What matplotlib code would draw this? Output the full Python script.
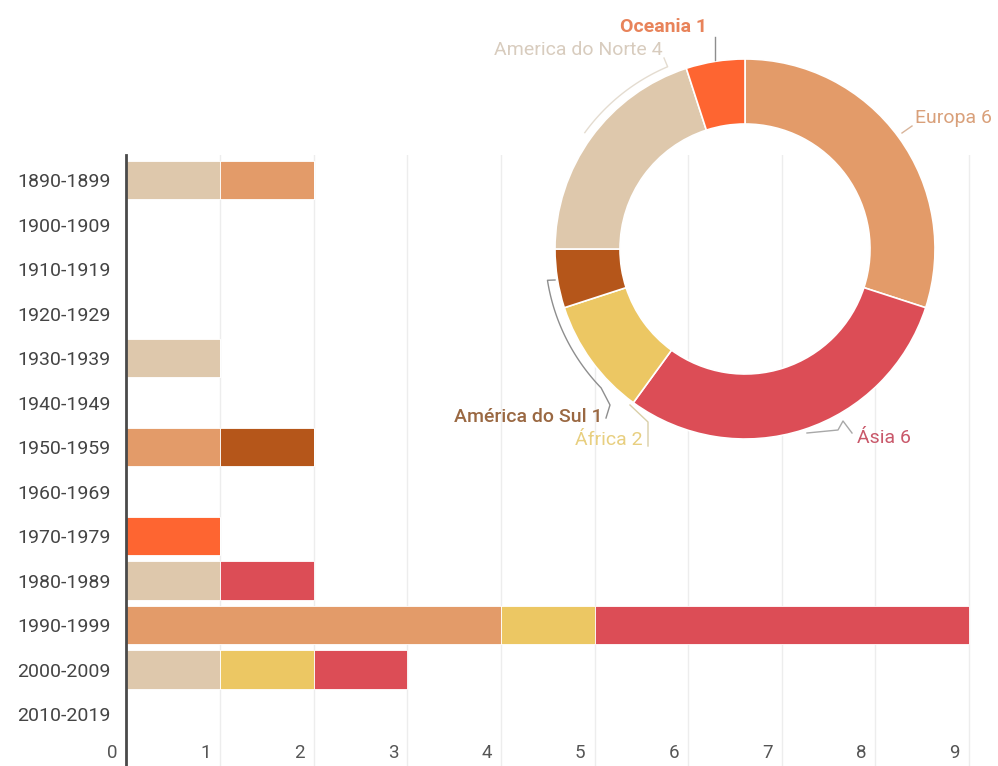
import numpy as np
import matplotlib
matplotlib.use("Agg")
import matplotlib.pyplot as plt
import matplotlib.transforms as mtransforms

plt.rcParams['font.family'] = ['Roboto', 'DejaVu Sans']

# ---- data -------------------------------------------------------------
decades = ['1890-1899', '1900-1909', '1910-1919', '1920-1929', '1930-1939',
           '1940-1949', '1950-1959', '1960-1969', '1970-1979', '1980-1989',
           '1990-1999', '2000-2009', '2010-2019']

america_norte = [1, 0, 0, 0, 1, 0, 0, 0, 0, 1, 0, 1, 0]
europa        = [1, 0, 0, 0, 0, 0, 1, 0, 0, 0, 4, 0, 0]
america_sul   = [0, 0, 0, 0, 0, 0, 1, 0, 0, 0, 0, 0, 0]
oceania       = [0, 0, 0, 0, 0, 0, 0, 0, 1, 0, 0, 0, 0]
africa        = [0, 0, 0, 0, 0, 0, 0, 0, 0, 0, 1, 1, 0]
asia          = [0, 0, 0, 0, 0, 0, 0, 0, 0, 1, 4, 1, 0]

x_ticks = [0, 1, 2, 3, 4, 5, 6, 7, 8, 9]

# stacking order of the bars (left to right)
bar_series = [
    ('America do Norte', america_norte, '#DEC8AC'),
    ('Europa',           europa,        '#E39B69'),
    ('América do Sul',   america_sul,   '#B5561A'),
    ('Oceania',          oceania,       '#FE6531'),
    ('África',           africa,        '#ECC763'),
    ('Ásia',             asia,          '#DC4D56'),
]

# donut order, clockwise from 12 o'clock
donut_names  = ['Europa', 'Ásia', 'África', 'América do Sul', 'America do Norte', 'Oceania']
donut_series = [europa, asia, africa, america_sul, america_norte, oceania]
donut_colors = ['#E39B69', '#DC4D56', '#ECC763', '#B5561A', '#DEC8AC', '#FE6531']
donut_totals = [sum(s) for s in donut_series]

# ---- figure -----------------------------------------------------------
W, H = 998, 766
fig = plt.figure(figsize=(W / 100, H / 100), dpi=100)
fig.patch.set_facecolor('white')

x0_px, unit_px = 126.5, 93.6
top_px, row0_px, row_px = 155, 180, 44.5
ax = fig.add_axes([x0_px / W, 0, (W - x0_px) / W, (H - top_px) / H])
ax.set_xlim(0, (W - x0_px) / unit_px)
ax.set_ylim((H - row0_px) / row_px, -(row0_px - top_px) / row_px)

rows = np.arange(len(decades))
left = np.zeros(len(decades))
for name, vals, col in bar_series:
    vals = np.array(vals, dtype=float)
    ax.barh(rows, vals, left=left, height=0.855, color=col,
            edgecolor='white', linewidth=0.6, zorder=2)
    left += vals

for v in x_ticks[1:]:
    ax.axvline(v, color='#EDEDED', lw=1, zorder=0)

for s in ['top', 'right', 'bottom']:
    ax.spines[s].set_visible(False)
ax.spines['left'].set_color('#4a4a4a')
ax.spines['left'].set_linewidth(2)
ax.set_xticks([])
ax.set_yticks(rows)
ax.set_yticklabels(decades, fontsize=14, color='#444444')
ax.tick_params(axis='y', length=0, pad=11.5)
ax.set_facecolor('none')

shift = mtransforms.ScaledTranslation(-9 / 100, 0, fig.dpi_scale_trans)
xlab_row = (753 - row0_px) / row_px
for v in x_ticks:
    ax.text(v, xlab_row, str(v), ha='right', va='center', fontsize=13.5,
            color='#555555', transform=ax.transData + shift, clip_on=False)

# ---- donut --------------------------------------------------------------
ax2 = fig.add_axes([0, 0, 1, 1])
cx, cy, R = 745, 249, 190
ax2.pie(donut_totals, colors=donut_colors, startangle=90, counterclock=False,
        radius=R, center=(cx, H - cy),
        wedgeprops=dict(width=65, edgecolor='white', linewidth=1.2))
ax2.set_xlim(0, W)
ax2.set_ylim(0, H)
ax2.set_aspect('auto')
ax2.axis('off')


def P(pts):
    pts = np.array(pts, dtype=float)
    return pts[:, 0], H - pts[:, 1]


def arc(r, a0, a1, n=40):
    a = np.radians(np.linspace(a0, a1, n))
    return [(cx + r * np.sin(t), cy - r * np.cos(t)) for t in a]


lc = '#A8A8A8'
# Europa
ax2.plot(*P([(902, 133), (912, 126)]), color='#D8B49A', lw=1)
# Ásia
ax2.plot(*P([(807, 433), (838, 430), (843, 421), (852, 433)]), color=lc, lw=1)
# África
ax2.plot(*P([(630, 405), (648, 422), (648, 446)]), color='#D9CFA8', lw=1)
# América do Sul
ax2.plot(*P([(555, 280)] + arc(200, 261, 226) + [(610, 405), (606, 418)]),
         color='#8E8E8E', lw=1)
# America do Norte
ax2.plot(*P(arc(198, 306, 337) + [(664, 58)]), color='#E4DCD0', lw=1)
# Oceania
ax2.plot(*P([(715, 37), (715, 60)]), color='#8E8E8E', lw=1)

label_specs = {
    'Europa':           (915, 118, 'left',   '#D9A07A', 'normal'),
    'Ásia':             (857, 438, 'left',   '#C9586A', 'normal'),
    'África':           (643, 440, 'right',  '#E8CF80', 'normal'),
    'América do Sul':   (603, 417, 'right',  '#9A6842', 'medium'),
    'America do Norte': (663, 50,  'right',  '#D8CCBE', 'normal'),
    'Oceania':          (664, 27,  'center', '#E8835A', 'bold'),
}
for name, total in zip(donut_names, donut_totals):
    x, y, ha, col, wt = label_specs[name]
    ax2.text(x, H - y, f'{name} {total}', ha=ha, va='center', fontsize=14,
             color=col, fontweight=wt)

fig.savefig('out.png', dpi=100, facecolor='white')
